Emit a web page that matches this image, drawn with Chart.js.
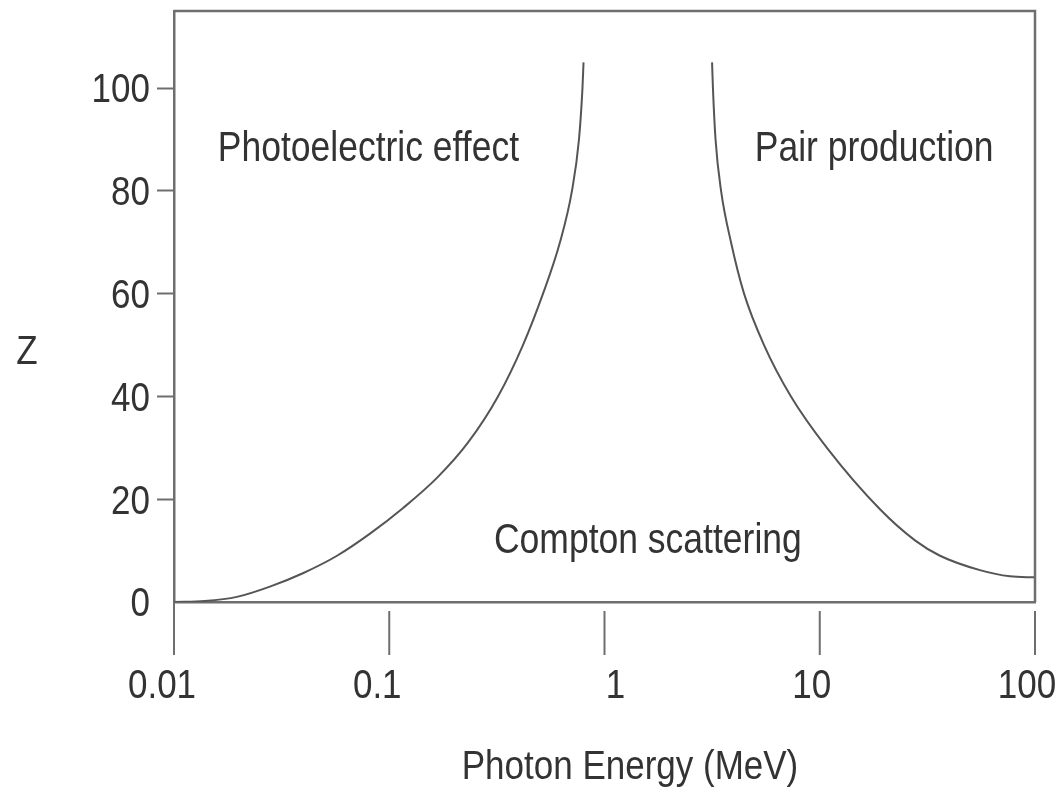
<!DOCTYPE html>
<html>
<head>
<meta charset="utf-8">
<title>Z vs Photon Energy</title>
<script src="https://cdn.jsdelivr.net/npm/chart.js@4.4.1/dist/chart.umd.min.js"></script>
<style>
    html, body { margin: 0; padding: 0; background: #fff; }
    #wrap { width: 1058px; height: 787px; }
</style>
</head>
<body>
<div id="wrap"><canvas id="zChart" width="1058" height="787"></canvas></div>
<script>
// Axis ticks
const energyTicks = [0.01, 0.1, 1, 10, 100];
const zTicks = [0, 20, 40, 60, 80, 100];

// Photoelectric / Compton boundary (MeV, Z)
const photoEnergy = [0.01, 0.0139, 0.0196, 0.0279, 0.0397, 0.0572, 0.0814, 0.116, 0.167, 0.232,
    0.320, 0.418, 0.518, 0.621, 0.706, 0.761, 0.790, 0.799];
const photoZ = [0, 0.2, 1, 3, 5.6, 9, 13.3, 18.3, 24.2, 31, 40, 50, 60, 70, 80, 90, 100, 105];

// Compton / pair production boundary (MeV, Z)
const pairEnergy = [3.16, 3.19, 3.28, 3.48, 3.87, 4.45, 5.51, 7.35, 10.8, 19.1, 27.7, 36.2, 55.5, 76.5, 100];
const pairZ = [105, 100, 90, 80, 70, 60, 50, 40, 30, 18, 12, 9, 6.2, 5, 4.8];

const regionNames = ['Photoelectric effect', 'Pair production', 'Compton scattering'];

const FONT = "'Liberation Sans', Arial, Helvetica, sans-serif";
const INK = '#333333';
const AXIS = '#6e6e6e';
const CURVE = '#555555';
const TEXT_STRETCH = 1.18;   // glyphs are a little taller than the font's natural shape

const toPoints = (xs, ys) => xs.map((x, i) => ({ x: x, y: ys[i] }));

function tallText(ctx, text, x, y, align) {
    ctx.save();
    ctx.translate(x, y);
    ctx.scale(1, TEXT_STRETCH);
    ctx.textAlign = align || 'center';
    ctx.fillText(text, 0, 0);
    ctx.restore();
}

// Frame, offset x ticks, tick labels, axis titles and region names
const decorations = {
    id: 'decorations',
    afterDraw(chart) {
        const ctx = chart.ctx;
        const area = chart.chartArea;
        const xs = chart.scales.x;
        const ys = chart.scales.y;

        ctx.save();
        ctx.strokeStyle = AXIS;
        ctx.lineWidth = 2.5;
        ctx.beginPath();
        ctx.moveTo(area.left, area.top);
        ctx.lineTo(area.right, area.top);
        ctx.lineTo(area.right, area.bottom);
        ctx.stroke();

        // x ticks hang a little below the axis line
        ctx.lineWidth = 2;
        xs.ticks.forEach((t, i) => {
            const px = xs.getPixelForTick(i);
            ctx.beginPath();
            ctx.moveTo(px, i === 0 ? area.bottom : area.bottom + 9);
            ctx.lineTo(px, area.bottom + 53);
            ctx.stroke();
        });

        ctx.fillStyle = INK;
        ctx.font = '35px ' + FONT;
        ctx.textBaseline = 'middle';

        const xNudge = [-12, -12, 11, -8, -8];
        xs.ticks.forEach((t, i) => {
            tallText(ctx, String(t.value), xs.getPixelForTick(i) + xNudge[i], area.bottom + 85);
        });
        ys.ticks.forEach((t, i) => {
            tallText(ctx, String(t.value), area.left - 24, ys.getPixelForTick(i) + 3, 'right');
        });

        tallText(ctx, 'Photon Energy (MeV)', 630, 768);
        tallText(ctx, 'Z', 27, 353);

        ctx.font = '35.5px ' + FONT;
        tallText(ctx, regionNames[0], xs.getPixelForValue(0.08), ys.getPixelForValue(88));
        tallText(ctx, regionNames[1], xs.getPixelForValue(17.9), ys.getPixelForValue(88));
        tallText(ctx, regionNames[2], xs.getPixelForValue(1.59), ys.getPixelForValue(11.8));
        ctx.restore();
    }
};

const zCtx = document.getElementById('zChart').getContext('2d');
new Chart(zCtx, {
    type: 'line',
    data: {
        datasets: [
            {
                label: 'Photoelectric / Compton',
                data: toPoints(photoEnergy, photoZ),
                borderColor: CURVE,
                borderWidth: 2,
                pointRadius: 0,
                cubicInterpolationMode: 'monotone'
            },
            {
                label: 'Compton / Pair',
                data: toPoints(pairEnergy, pairZ),
                borderColor: CURVE,
                borderWidth: 2,
                pointRadius: 0,
                cubicInterpolationMode: 'monotone'
            }
        ]
    },
    options: {
        responsive: false,
        animation: false,
        layout: {
            padding: { top: 11, right: 23, bottom: 0, left: 0 }
        },
        plugins: {
            legend: { display: false },
            tooltip: { enabled: false }
        },
        scales: {
            x: {
                type: 'logarithmic',
                min: 0.01,
                max: 100,
                afterBuildTicks: (scale) => {
                    scale.ticks = energyTicks.map(v => ({ value: v }));
                },
                afterFit: (scale) => {
                    scale.height = 185;
                    scale.paddingLeft = 0;
                    scale.paddingRight = 0;
                },
                grid: {
                    display: true,
                    drawOnChartArea: false,
                    drawTicks: false
                },
                border: {
                    display: true,
                    color: AXIS,
                    width: 2.5
                },
                ticks: { display: false },
                title: { display: false }
            },
            y: {
                type: 'linear',
                min: 0,
                max: 115,
                afterBuildTicks: (scale) => {
                    scale.ticks = zTicks.map(v => ({ value: v }));
                },
                afterFit: (scale) => {
                    scale.width = 174;
                    scale.paddingTop = 0;
                    scale.paddingBottom = 0;
                },
                grid: {
                    display: true,
                    drawOnChartArea: false,
                    drawTicks: true,
                    tickLength: 17,
                    tickWidth: 2,
                    tickColor: (c) => (c.tick && c.tick.value === 0 ? 'transparent' : AXIS)
                },
                border: {
                    display: true,
                    color: AXIS,
                    width: 2.5
                },
                ticks: { display: false }
            }
        }
    },
    plugins: [decorations]
});
</script>
</body>
</html>
